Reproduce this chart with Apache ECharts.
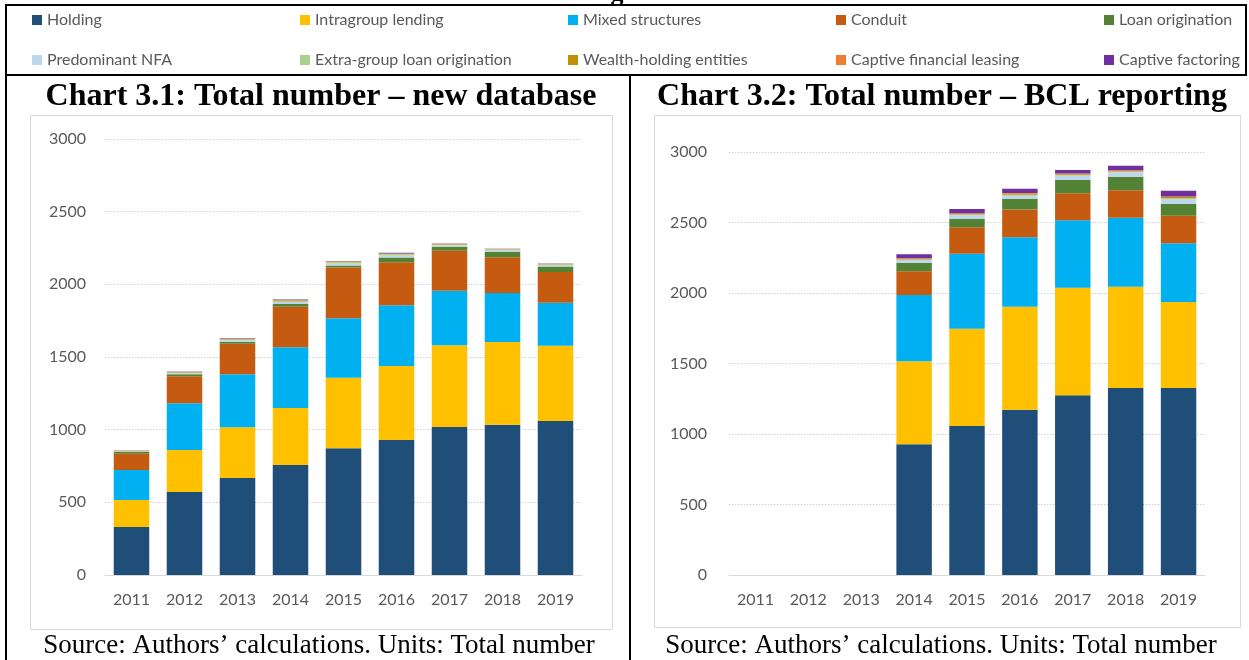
<!DOCTYPE html>
<html>
<head>
<meta charset="utf-8">
<script src="https://cdn.jsdelivr.net/npm/echarts@6/dist/echarts.min.js"></script>
<style>
  html, body { margin: 0; padding: 0; background: #fff; }
  #chart { width: 1249px; height: 660px; }
</style>
</head>
<body>
<div id="chart"></div>
<script>
// categories
const years = ['2011', '2012', '2013', '2014', '2015', '2016', '2017', '2018', '2019']
const yTicks = { min: 0, max: 3000, interval: 500 }

const seriesNames = [
  'Holding', 'Intragroup lending', 'Mixed structures', 'Conduit', 'Loan origination',
  'Predominant NFA', 'Extra-group loan origination', 'Wealth-holding entities',
  'Captive financial leasing', 'Captive factoring'
]
const seriesColors = [
  '#1F4E79', '#FFC000', '#00B0F0', '#C55A11', '#548235',
  '#BDD7EE', '#A9D18E', '#BF9000', '#ED7D31', '#7030A0'
]

// Chart 3.1 - new database
const holdingNew = [330, 571, 667, 757, 872, 929, 1018, 1034, 1060]
const intragroupNew = [186, 289, 349, 392, 486, 509, 562, 569, 518]
const mixedNew = [206, 321, 365, 418, 408, 418, 376, 337, 296]
const conduitNew = [113, 186, 211, 279, 349, 296, 275, 246, 211]
const loanOrigNew = [12, 15, 13, 19, 14, 32, 28, 37, 37]
const nfaNew = [3, 8, 10, 14, 15, 15, 10, 12, 10]
const extraGroupNew = [2, 4, 5, 6, 8, 8, 4, 4, 6]
const wealthNew = [1, 2, 3, 4, 3, 3, 3, 2, 2]
const leasingNew = [2, 3, 3, 3, 3, 3, 4, 2, 2]
const factoringNew = [1, 2, 3, 3, 3, 4, 1, 1, 1]

// Chart 3.2 - BCL reporting (no data before 2014)
const holdingBcl = [null, null, null, 927, 1057, 1172, 1274, 1326, 1326]
const intragroupBcl = [null, null, null, 589, 690, 731, 764, 719, 610]
const mixedBcl = [null, null, null, 470, 532, 492, 478, 489, 416]
const conduitBcl = [null, null, null, 168, 187, 198, 191, 194, 196]
const loanOrigBcl = [null, null, null, 61, 59, 76, 94, 97, 85]
const nfaBcl = [null, null, null, 19, 26, 21, 30, 31, 31]
const extraGroupBcl = [null, null, null, 4, 5, 7, 6, 5, 8]
const wealthBcl = [null, null, null, 5, 5, 7, 6, 5, 8]
const leasingBcl = [null, null, null, 3, 4, 5, 5, 4, 5]
const factoringBcl = [null, null, null, 28, 30, 30, 24, 33, 40]

const newDb = [holdingNew, intragroupNew, mixedNew, conduitNew, loanOrigNew,
  nfaNew, extraGroupNew, wealthNew, leasingNew, factoringNew]
const bcl = [holdingBcl, intragroupBcl, mixedBcl, conduitBcl, loanOrigBcl,
  nfaBcl, extraGroupBcl, wealthBcl, leasingBcl, factoringBcl]

const labelFont = 'Lato, "Open Sans", sans-serif'
const grey = '#595959'
const serif = '"Liberation Serif", "Times New Roman", serif'

const makeSeries = (data, idx) => seriesNames.map((name, i) => ({
  name,
  type: 'bar',
  stack: 'total' + idx,
  xAxisIndex: idx,
  yAxisIndex: idx,
  barCategoryGap: '33%',
  itemStyle: { color: seriesColors[i] },
  data: data[i]
}))

const makeXAxis = (idx) => ({
  type: 'category',
  gridIndex: idx,
  data: years,
  axisLine: { lineStyle: { color: '#D9D9D9', width: 1 } },
  axisTick: { show: false },
  axisLabel: { margin: 17, fontFamily: labelFont, fontSize: 16, color: grey }
})

const makeYAxis = (idx, margin) => ({
  type: 'value',
  gridIndex: idx,
  min: yTicks.min,
  max: yTicks.max,
  interval: yTicks.interval,
  axisLine: { show: false },
  axisTick: { show: false },
  axisLabel: {
    margin,
    fontFamily: labelFont,
    fontSize: 16,
    color: grey,
    formatter: (v) => String(v)
  },
  splitLine: { lineStyle: { color: '#D0D0D0', type: [1.5, 1.5], width: 1 } }
})

const line = (x1, y1, x2, y2) => ({
  type: 'line',
  shape: { x1, y1, x2, y2 },
  style: { stroke: '#000', lineWidth: 2 },
  silent: true
})

const text = (x, y, str, font) => ({
  type: 'text',
  x, y,
  style: { text: str, font, fill: '#000', align: 'center', verticalAlign: 'middle' },
  silent: true
})

const chart = echarts.init(document.getElementById('chart'))
const option = {
  animation: false,
  backgroundColor: '#fff',
  legend: seriesNames.map((name, i) => ({
    data: [name],
    left: 27 + (i % 5) * 268,
    top: i < 5 ? 7 : 47,
    icon: 'rect',
    itemWidth: 10,
    itemHeight: 10,
    selectedMode: false,
    textStyle: { fontFamily: labelFont, fontSize: 16, color: grey }
  })),
  grid: [
    { left: 105, width: 477, top: 139, height: 436 },
    { left: 729, width: 476, top: 152, height: 423 }
  ],
  xAxis: [makeXAxis(0), makeXAxis(1)],
  yAxis: [makeYAxis(0, 19), makeYAxis(1, 22)],
  series: [...makeSeries(newDb, 0), ...makeSeries(bcl, 1)],
  graphic: [
    // chart frames
    { type: 'rect', shape: { x: 30.5, y: 115.5, width: 582, height: 514 },
      style: { fill: null, stroke: '#D9D9D9', lineWidth: 1 }, silent: true },
    { type: 'rect', shape: { x: 654.5, y: 115.5, width: 586, height: 512 },
      style: { fill: null, stroke: '#D9D9D9', lineWidth: 1 }, silent: true },
    // table borders
    line(5, 5, 1247, 5),
    line(5, 75, 1247, 75),
    line(6, 5, 6, 660),
    line(1246, 5, 1246, 75),
    line(630, 75, 630, 660),
    // titles and sources
    text(321, 97, 'Chart 3.1: Total number \u2013 new database', 'bold 32px ' + serif),
    text(942, 97, 'Chart 3.2: Total number \u2013 BCL reporting', 'bold 32px ' + serif),
    text(319, 646, 'Source: Authors\u2019 calculations. Units: Total number', '27px ' + serif),
    text(941, 646, 'Source: Authors\u2019 calculations. Units: Total number', '27px ' + serif),
    text(617, -6, 'g', 'bold 26px ' + serif)
  ]
}
chart.setOption(option)
</script>
</body>
</html>
